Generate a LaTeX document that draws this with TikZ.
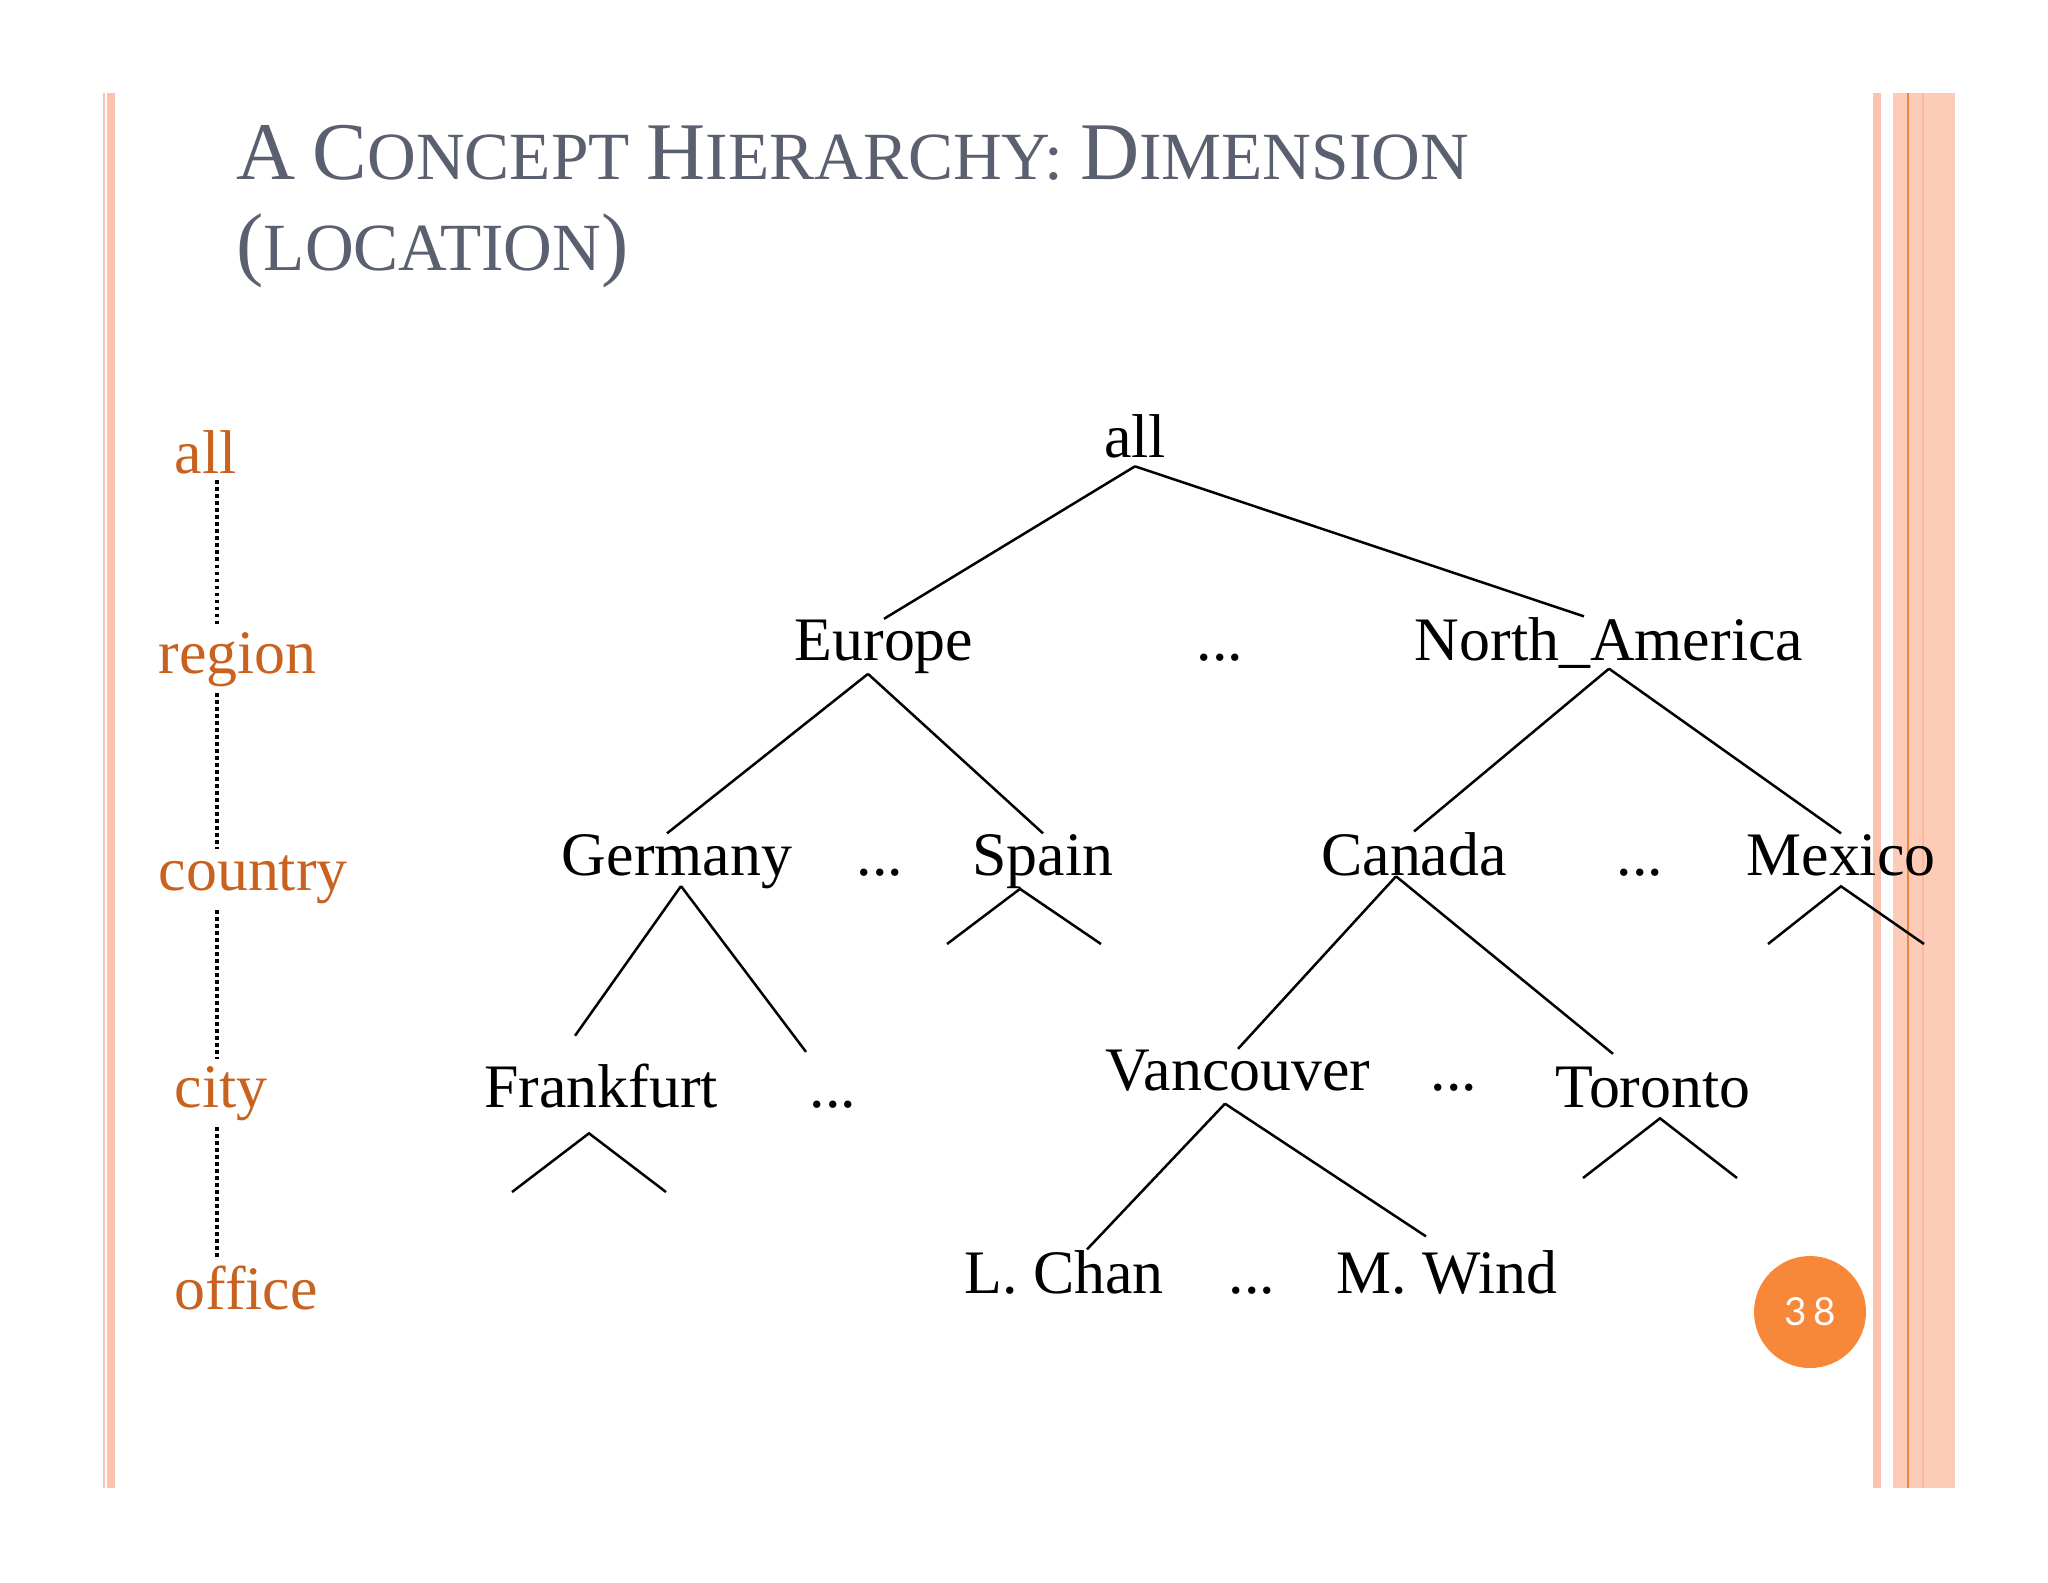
\documentclass[tikz,border=0pt]{standalone}
\usepackage{fontspec}
\setmainfont{Liberation Serif}
\newfontfamily\pagenumfont{Lato}
\usetikzlibrary{positioning,calc}
\definecolor{bandpink}{HTML}{FBC3AE}
\definecolor{bandlight}{HTML}{FCCCB8}
\definecolor{bandorange}{HTML}{F2843A}
\definecolor{bandmid}{HTML}{FAB89E}
\definecolor{titlegray}{HTML}{5A6070}
\definecolor{levelorange}{HTML}{C9621F}
\definecolor{pagedot}{HTML}{F7883A}
\newcommand{\tcap}[1]{{\fontsize{23.3pt}{26pt}\selectfont #1}}
\newcommand{\tsc}[1]{{\fontsize{19.2pt}{22pt}\selectfont #1}}

\begin{document}
\begin{tikzpicture}[
    x=0.1mm, y=-0.1mm,
    every node/.style={font=\fontsize{17.6pt}{20pt}\selectfont},
    concept/.style={anchor=base, inner sep=0pt},
    level/.style={anchor=base west, inner xsep=0pt, inner ysep=0.6mm,
      text=levelorange},
    branch/.style={line width=0.25mm},
    levelline/.style={densely dotted, line width=0.35mm},
  ]

  \fill[white] (0,0) rectangle (2048,1582);
  \useasboundingbox (0,0) rectangle (2048,1582);

  % --- Slide borders ---
  \fill[bandpink] (103,93) rectangle (105,1488);
  \fill[bandpink] (107,93) rectangle (115,1488);
  \fill[bandpink] (1873,93) rectangle (1881,1488);
  \fill[bandlight] (1893,93) rectangle (1955,1488);
  \fill[bandorange] (1907,93) rectangle (1909,1488);
  \fill[bandmid] (1922,93) rectangle (1924,1488);

  % --- Title ---
  \node[anchor=base west, inner sep=0pt, text=titlegray,
    font=\fontsize{19.2pt}{22pt}\selectfont] (title1) at (236,179)
    {\tcap{A} \tcap{C}\tsc{ONCEPT} \tcap{H}\tsc{IERARCHY:} \tcap{D}\tsc{IMENSION}};
  \node[anchor=base west, inner sep=0pt, text=titlegray,
    font=\fontsize{19.2pt}{22pt}\selectfont] (title2) at (236,270)
    {\tcap{(}\tsc{LOCATION}\tcap{)}};

  % --- Levels (left) ---
  \node[level] (lvall) at (174,473) {all};
  \node[level] (lvregion) at (158,673) {region};
  \node[level] (lvcountry) at (158,890) {country};
  \node[level] (lvcity) at (174,1107) {city};
  \node[level] (lvoffice) at (174,1309) {office};

  \coordinate (axis) at (217,0);
  \draw[levelline] (lvall.south -| axis) -- (lvregion.north -| axis);
  \draw[levelline] (lvregion.south -| axis) -- (lvcountry.north -| axis);
  \draw[levelline] (lvcountry.south -| axis) -- (lvcity.north -| axis);
  \draw[levelline] (lvcity.south -| axis) -- (lvoffice.north -| axis);

  % --- Tree nodes ---
  \node[concept] (all) at (1135,457) {all};

  \node[concept] (europe) at (884,660) {Europe};
  \node[concept] (regdots) at (1220,660) {...};
  \node[concept] (namerica) at (1609,660) {North\_America};

  \node[concept] (germany) at (677,875) {Germany};
  \node[concept] (eudots) at (880,875) {...};
  \node[concept] (spain) at (1043,875) {Spain};
  \node[concept] (canada) at (1414,875) {Canada};
  \node[concept] (nadots) at (1640,875) {...};
  \node[concept] (mexico) at (1841,875) {Mexico};

  \node[concept] (frankfurt) at (601,1107) {Frankfurt};
  \node[concept] (gerdots) at (833,1107) {...};
  \node[concept] (vancouver) at (1238,1090) {Vancouver};
  \node[concept] (candots) at (1454,1090) {...};
  \node[concept] (toronto) at (1653,1107) {Toronto};

  \node[concept] (lchan) at (1064,1293) {L. Chan};
  \node[concept] (vandots) at (1252,1293) {...};
  \node[concept] (mwind) at (1447,1293) {M. Wind};

  % free ends of the open branches
  \coordinate (spain-l) at (947,944);
  \coordinate (spain-r) at (1101,944);
  \coordinate (mexico-l) at (1768,944);
  \coordinate (mexico-r) at (1924,944);
  \coordinate (frank-l) at (512,1192);
  \coordinate (frank-r) at (666,1192);
  \coordinate (toronto-l) at (1583,1178);
  \coordinate (toronto-r) at (1737,1178);

  % --- Branches ---
  \draw[branch] ([yshift=-0.8mm]all.south) -- (europe.north);
  \draw[branch] ([yshift=-0.8mm]all.south) -- ([xshift=-2.5mm]namerica.north);

  \draw[branch] ([xshift=-1.6mm]europe.south) -- ([xshift=-1mm]germany.north);
  \draw[branch] ([xshift=-1.6mm]europe.south) -- (spain.north);
  \draw[branch] (namerica.south) -- (canada.north);
  \draw[branch] (namerica.south) -- (mexico.north);

  \draw[branch] ([xshift=0.4mm,yshift=0.3mm]germany.south)
    -- ([xshift=-2.6mm,yshift=2.7mm]frankfurt.north);
  \draw[branch] ([xshift=0.4mm,yshift=0.3mm]germany.south)
    -- ([xshift=-2.7mm,yshift=4.8mm]gerdots.north);
  \draw[branch] (spain-l) -- ([xshift=-2.3mm]spain.south) -- (spain-r);
  \draw[branch] ([xshift=-1.8mm]canada.south) -- (vancouver.north);
  \draw[branch] ([xshift=-1.8mm]canada.south) -- ([xshift=-4mm,yshift=1.2mm]toronto.north);
  \draw[branch] (mexico-l) -- ([yshift=-1mm]mexico.south) -- (mexico-r);

  \draw[branch] (frank-l) -- ([xshift=-1.2mm,yshift=-2.5mm]frankfurt.south) -- (frank-r);
  \draw[branch] ([xshift=-1.3mm,yshift=-1.2mm]vancouver.south)
    -- ([xshift=2.3mm]lchan.north);
  \draw[branch] ([xshift=-1.3mm,yshift=-1.2mm]vancouver.south)
    -- ([xshift=-2.1mm,yshift=1.3mm]mwind.north);
  \draw[branch] (toronto-l) -- ([xshift=0.7mm,yshift=-1mm]toronto.south) -- (toronto-r);

  % --- Page number ---
  \node[circle, fill=pagedot, minimum size=11.2mm, inner sep=0pt, text=white,
    font=\pagenumfont\fontsize{11pt}{12pt}\selectfont] (pagenum) at (1810,1312)
    {3\hspace{0.6mm}8};

\end{tikzpicture}
\end{document}
